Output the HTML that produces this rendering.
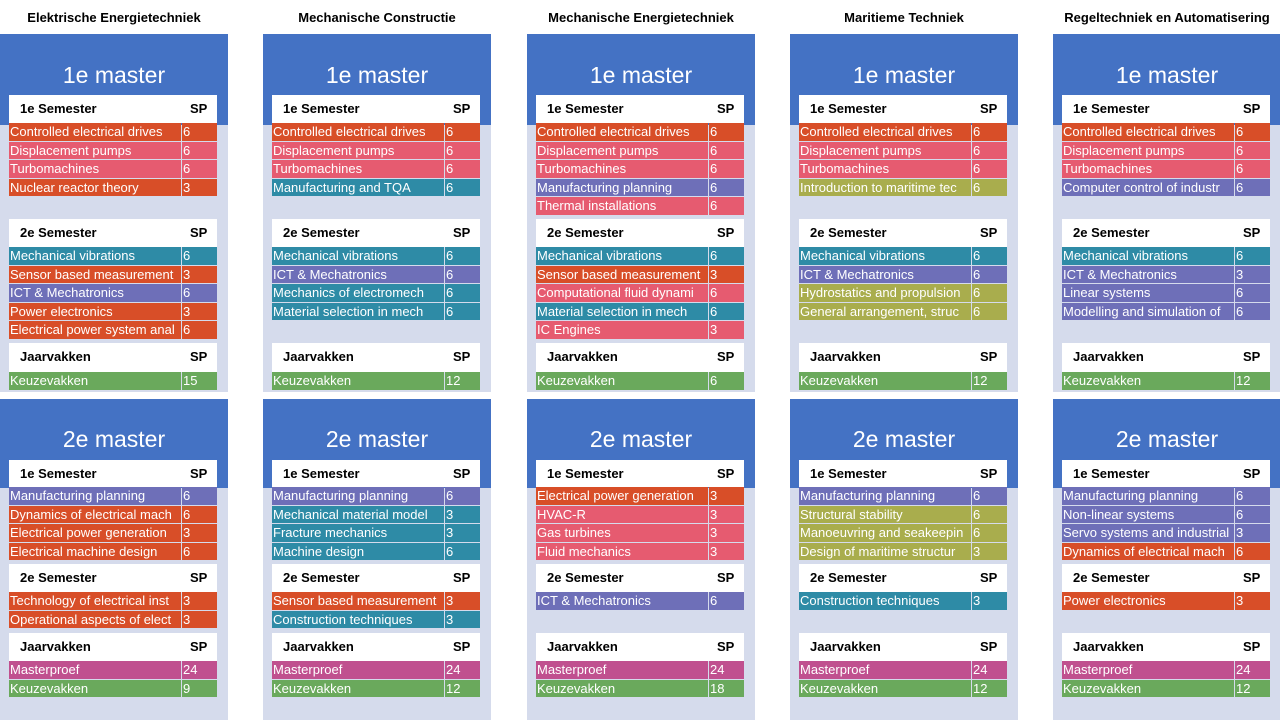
<!DOCTYPE html>
<html><head><meta charset="utf-8">
<style>
body{margin:0;width:1280px;height:720px;background:#fff;position:relative;overflow:hidden;font-family:"Liberation Sans",sans-serif}
.a{position:absolute;box-sizing:border-box}
.title{font-weight:bold;font-size:13px;text-align:center;color:#000}
.blue{background:#4472c4}
.light{background:#d5dbec}
.mt{color:#fff;font-size:23px;text-align:center}
.hdr{background:#fff;font-weight:bold;font-size:13px;color:#000}
.cell{color:#fff;font-size:13px;white-space:nowrap;overflow:hidden;line-height:18px;padding-left:1px}
</style></head><body>
<script>
const programs=["Elektrische Energietechniek","Mechanische Constructie","Mechanische Energietechniek","Maritieme Techniek","Regeltechniek en Automatisering"];
const C={O:"#d84e28",P:"#e65b70",T:"#2e8ba6",U:"#6e6fb8",G:"#6aa95c",M:"#c0508f",L:"#a9ad4d"};
// [name, SP, color]
const m1s1=[
[["Controlled electrical drives",6,"O"],["Displacement pumps",6,"P"],["Turbomachines",6,"P"],["Nuclear reactor theory",3,"O"]],
[["Controlled electrical drives",6,"O"],["Displacement pumps",6,"P"],["Turbomachines",6,"P"],["Manufacturing and TQA",6,"T"]],
[["Controlled electrical drives",6,"O"],["Displacement pumps",6,"P"],["Turbomachines",6,"P"],["Manufacturing planning",6,"U"],["Thermal installations",6,"P"]],
[["Controlled electrical drives",6,"O"],["Displacement pumps",6,"P"],["Turbomachines",6,"P"],["Introduction to maritime tec",6,"L"]],
[["Controlled electrical drives",6,"O"],["Displacement pumps",6,"P"],["Turbomachines",6,"P"],["Computer control of industr",6,"U"]]];
const m1s2=[
[["Mechanical vibrations",6,"T"],["Sensor based measurement",3,"O"],["ICT & Mechatronics",6,"U"],["Power electronics",3,"O"],["Electrical power system anal",6,"O"]],
[["Mechanical vibrations",6,"T"],["ICT & Mechatronics",6,"U"],["Mechanics of electromech",6,"T"],["Material selection in mech",6,"T"]],
[["Mechanical vibrations",6,"T"],["Sensor based measurement",3,"O"],["Computational fluid dynami",6,"P"],["Material selection in mech",6,"T"],["IC Engines",3,"P"]],
[["Mechanical vibrations",6,"T"],["ICT & Mechatronics",6,"U"],["Hydrostatics and propulsion",6,"L"],["General arrangement, struc",6,"L"]],
[["Mechanical vibrations",6,"T"],["ICT & Mechatronics",3,"U"],["Linear systems",6,"U"],["Modelling and simulation of",6,"U"]]];
const m1j=[[["Keuzevakken",15,"G"]],[["Keuzevakken",12,"G"]],[["Keuzevakken",6,"G"]],[["Keuzevakken",12,"G"]],[["Keuzevakken",12,"G"]]];
const m2s1=[
[["Manufacturing planning",6,"U"],["Dynamics of electrical mach",6,"O"],["Electrical power generation",3,"O"],["Electrical machine design",6,"O"]],
[["Manufacturing planning",6,"U"],["Mechanical material model",3,"T"],["Fracture mechanics",3,"T"],["Machine design",6,"T"]],
[["Electrical power generation",3,"O"],["HVAC-R",3,"P"],["Gas turbines",3,"P"],["Fluid mechanics",3,"P"]],
[["Manufacturing planning",6,"U"],["Structural stability",6,"L"],["Manoeuvring and seakeepin",6,"L"],["Design of maritime structur",3,"L"]],
[["Manufacturing planning",6,"U"],["Non-linear systems",6,"U"],["Servo systems and industrial",3,"U"],["Dynamics of electrical mach",6,"O"]]];
const m2s2=[
[["Technology of electrical inst",3,"O"],["Operational aspects of elect",3,"O"]],
[["Sensor based measurement",3,"O"],["Construction techniques",3,"T"]],
[["ICT & Mechatronics",6,"U"]],
[["Construction techniques",3,"T"]],
[["Power electronics",3,"O"]]];
const m2j=[
[["Masterproef",24,"M"],["Keuzevakken",9,"G"]],
[["Masterproef",24,"M"],["Keuzevakken",12,"G"]],
[["Masterproef",24,"M"],["Keuzevakken",18,"G"]],
[["Masterproef",24,"M"],["Keuzevakken",12,"G"]],
[["Masterproef",24,"M"],["Keuzevakken",12,"G"]]];

function box(cls,x,y,w,h,name,txt){
  const d=document.createElement('div');
  d.className='a '+cls;
  d.style.left=x+'px';d.style.top=y+'px';d.style.width=w+'px';d.style.height=h+'px';
  if(txt!==undefined)d.textContent=txt;
  
  
  document.body.appendChild(d);return d;
}
const RH=18.6;
function section(x,hy,ry,label,rows){
  const h=box('hdr',x+9,hy,208,ry-hy,'section-header');
  h.style.paddingTop='6px';
  const l=document.createElement('span');l.textContent=label;l.style.position='absolute';l.style.left='11px';
  
  
  h.appendChild(l);
  const s=document.createElement('span');s.textContent='SP';s.style.position='absolute';s.style.left='181px';
  
  
  h.appendChild(s);
  rows.forEach((r,i)=>{
    const y=ry+i*RH;
    const n=box('cell',x+9,y,172,RH-1,'course-name',r[0]);n.style.background=C[r[2]];
    const p=box('cell',x+182,y,35,RH-1,'course-sp',String(r[1]));p.style.background=C[r[2]];
  });
}
programs.forEach((p,i)=>{
  const x=Math.round(i*263.3);
  box('title',x-20,10,268,18,'program-title',p);
  box('light',x,125,228,267,'panel-1e-master');
  box('blue',x,34,228,91,'header-1e-master');
  box('mt',x,62,228,30,'title-1e-master','1e master');
  box('light',x,488,228,232,'panel-2e-master');
  box('blue',x,399,228,89,'header-2e-master');
  box('mt',x,426,228,30,'title-2e-master','2e master');
  section(x,95,123,'1e Semester',m1s1[i]);
  section(x,219,247,'2e Semester',m1s2[i]);
  section(x,343,372,'Jaarvakken',m1j[i]);
  section(x,460,487,'1e Semester',m2s1[i]);
  section(x,564,592,'2e Semester',m2s2[i]);
  section(x,633,661,'Jaarvakken',m2j[i]);
});
</script>
</body></html>
